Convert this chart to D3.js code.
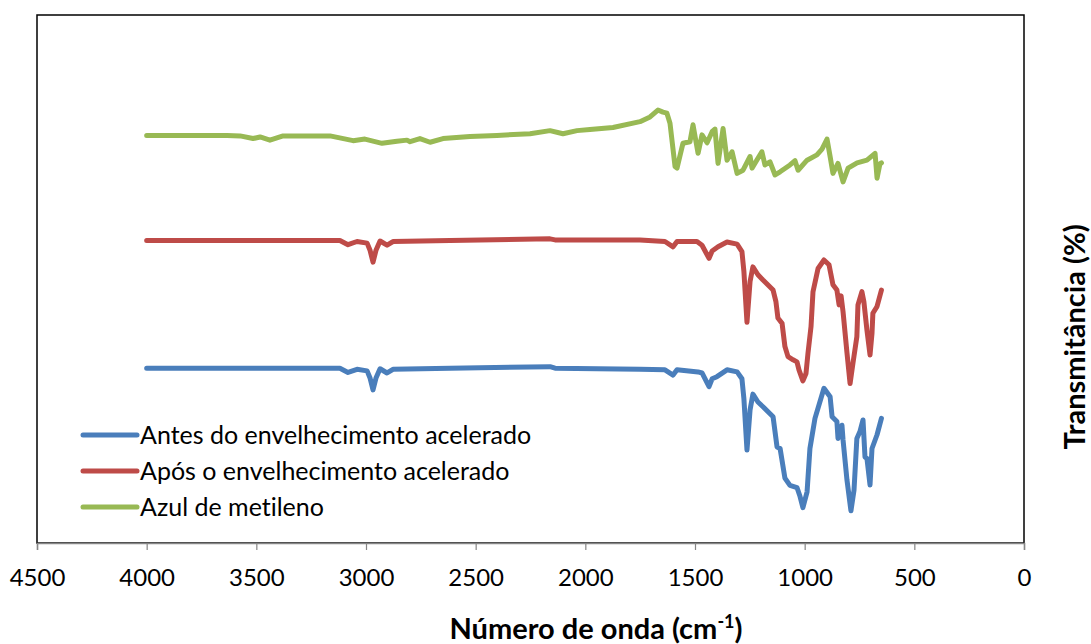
<!DOCTYPE html>
<html>
<head>
<meta charset="utf-8">
<script src="https://cdn.jsdelivr.net/npm/d3@7"></script>
<style>
    body { margin: 0; background: #fff; }
    text { font-family: Lato, "Open Sans", sans-serif; fill: #000; font-variant-ligatures: none; }
</style>
</head>
<body>
<svg id="chart" width="1091" height="644"></svg>
<script>
// wavenumbers (cm-1) and transmittance (arbitrary %, offset per spectrum)
var greenWn = [4000, 3634, 3574, 3515, 3483, 3438, 3378, 3164, 3059, 3005, 2927, 2859, 2813, 2799, 2754, 2708, 2649, 2526, 2403, 2252,
    2161, 2102, 2038, 1979, 1874, 1751, 1705, 1669, 1646, 1628, 1614, 1591, 1582, 1555, 1523, 1509, 1486, 1468, 1445, 1422,
    1409, 1395, 1372, 1354, 1331, 1308, 1281, 1249, 1240, 1195, 1181, 1158, 1135, 1112, 1067, 1044, 1030, 989, 944, 921,
    898, 884, 871, 848, 825, 802, 761, 716, 679, 670, 657, 650];
var greenT = [77.2, 77.2, 77.1, 76.6, 76.9, 76.3, 77.1, 77.1, 76.2, 76.5, 75.7, 76.1, 76.3, 76.0, 76.6, 75.9, 76.6, 77.0, 77.2, 77.5,
    78.1, 77.5, 78.1, 78.3, 78.7, 79.8, 80.7, 82.0, 81.6, 81.4, 79.5, 71.3, 71.0, 75.7, 76.0, 79.2, 73.8, 77.3, 75.8, 77.9,
    78.4, 71.9, 78.5, 72.5, 74.1, 70.0, 70.6, 73.2, 71.0, 74.1, 71.6, 72.2, 69.7, 70.3, 71.6, 72.4, 70.6, 72.5, 73.5, 74.6,
    76.5, 73.2, 70.0, 71.9, 68.4, 71.0, 72.0, 72.5, 73.8, 69.1, 71.8, 72.0];

var redWn = [4000, 3119, 3082, 3041, 2995, 2982, 2968, 2954, 2936, 2904, 2877, 2617, 2161, 2138, 1751, 1637, 1600, 1582, 1491, 1468,
    1436, 1422, 1395, 1354, 1308, 1286, 1277, 1263, 1249, 1236, 1213, 1190, 1144, 1131, 1122, 1103, 1090, 1076, 1053, 1035,
    1026, 1008, 994, 985, 971, 962, 939, 912, 889, 871, 853, 843, 834, 825, 807, 793, 780, 762, 757, 739,
    730, 716, 702, 693, 689, 670, 650];
var redT = [57.3, 57.3, 56.5, 57.1, 56.8, 55.5, 53.2, 55.5, 57.2, 56.4, 57.1, 57.3, 57.6, 57.4, 57.4, 57.1, 56.1, 57.1, 57.1, 56.4,
    53.9, 55.3, 56.1, 57.0, 56.6, 55.2, 51.4, 41.8, 49.5, 52.3, 50.8, 49.8, 47.9, 45.7, 42.6, 41.6, 37.2, 35.3, 34.7, 34.3,
    32.8, 30.7, 32.1, 35.9, 41.0, 47.6, 52.0, 53.6, 52.7, 48.9, 47.9, 45.1, 46.8, 43.8, 36.0, 30.2, 34.0, 39.1, 45.1, 47.6,
    45.7, 40.3, 35.6, 39.7, 43.5, 44.8, 47.9];

var blueWn = [4000, 3119, 3082, 3041, 2995, 2982, 2968, 2954, 2936, 2904, 2877, 2617, 2161, 2138, 1751, 1637, 1600, 1582, 1486, 1468,
    1436, 1422, 1400, 1354, 1308, 1286, 1277, 1263, 1249, 1236, 1213, 1190, 1144, 1126, 1112, 1090, 1067, 1035, 1021, 1008,
    989, 976, 953, 912, 884, 875, 853, 848, 830, 825, 807, 789, 775, 762, 748, 734, 725, 716, 702, 693,
    670, 650];
var blueT = [33.1, 33.1, 32.3, 32.9, 32.6, 31.3, 29.0, 31.3, 33.0, 32.2, 32.9, 33.1, 33.4, 33.1, 32.9, 32.8, 31.8, 32.8, 32.4, 32.2,
    29.6, 31.1, 31.5, 32.8, 32.4, 31.1, 27.3, 17.6, 25.2, 28.2, 26.7, 25.8, 23.9, 18.2, 17.9, 12.3, 10.9, 10.5, 8.8, 6.7,
    9.7, 17.9, 23.6, 29.3, 27.7, 23.9, 23.0, 19.8, 22.3, 19.5, 11.9, 6.1, 10.0, 19.8, 21.1, 23.3, 16.3, 16.0, 11.0, 17.9,
    20.5, 23.6];

var xTicks = [4500, 4000, 3500, 3000, 2500, 2000, 1500, 1000, 500, 0];

var series = [
    {name: "Antes do envelhecimento acelerado", wn: blueWn, t: blueT, color: "#4a7ebb"},
    {name: "Após o envelhecimento acelerado", wn: redWn, t: redT, color: "#be4b48"},
    {name: "Azul de metileno", wn: greenWn, t: greenT, color: "#98b954"}
];

var margin = {left: 37, top: 15, right: 1024, bottom: 543};
var svg = d3.select("#chart");

var xScale = d3.scaleLinear().domain([4500, 0]).range([margin.left, margin.right]);
var yScale = d3.scaleLinear().domain([0, 100]).range([margin.bottom, margin.top]);

// plot frame
svg.append("rect")
    .attr("x", margin.left)
    .attr("y", margin.top)
    .attr("width", margin.right - margin.left)
    .attr("height", margin.bottom - margin.top)
    .attr("fill", "none")
    .attr("stroke", "#000")
    .attr("stroke-width", 1.5);

var xAxis = d3.axisBottom(xScale).tickValues(xTicks).tickSize(7).tickPadding(19).tickFormat(d3.format("d"));
var gx = svg.append("g")
    .attr("class", "x axis")
    .attr("transform", "translate(0," + margin.bottom + ")")
    .call(xAxis);
gx.select(".domain").attr("stroke", "#868686").attr("stroke-width", 1.5);
gx.selectAll(".tick line").attr("stroke", "#868686").attr("stroke-width", 1.2);
gx.selectAll("text").style("font-size", "24px").attr("font-family", "Lato, sans-serif");

var line = d3.line()
    .x(function (d) { return xScale(d[0]); })
    .y(function (d) { return yScale(d[1]); });

series.forEach(function (s) {
    svg.append("path")
        .datum(d3.zip(s.wn, s.t))
        .attr("d", line)
        .attr("fill", "none")
        .attr("stroke", s.color)
        .attr("stroke-width", 5)
        .attr("stroke-linejoin", "round")
        .attr("stroke-linecap", "round");
});

// legend
var legend = svg.append("g").attr("transform", "translate(83,435)");
series.forEach(function (s, i) {
    var row = legend.append("g").attr("transform", "translate(0," + (i * 36) + ")");
    row.append("line")
        .attr("x1", 0).attr("x2", 54)
        .attr("stroke", s.color)
        .attr("stroke-width", 5)
        .attr("stroke-linecap", "round");
    row.append("text")
        .attr("x", 57)
        .attr("dy", "0.35em")
        .style("font-size", "25px")
        .text(s.name);
});

// axis titles
var xTitle = svg.append("text")
    .attr("x", 596)
    .attr("y", 639)
    .attr("text-anchor", "middle")
    .style("font-size", "29px")
    .style("font-weight", "bold");
xTitle.append("tspan").text("Número de onda (cm");
xTitle.append("tspan").attr("dy", -11).style("font-size", "18px").text("-1");
xTitle.append("tspan").attr("dy", 11).text(")");

svg.append("text")
    .attr("transform", "translate(1085,337) rotate(-90)")
    .attr("text-anchor", "middle")
    .style("font-size", "29px")
    .style("font-weight", "bold")
    .text("Transmitância (%)");
</script>
</body>
</html>
